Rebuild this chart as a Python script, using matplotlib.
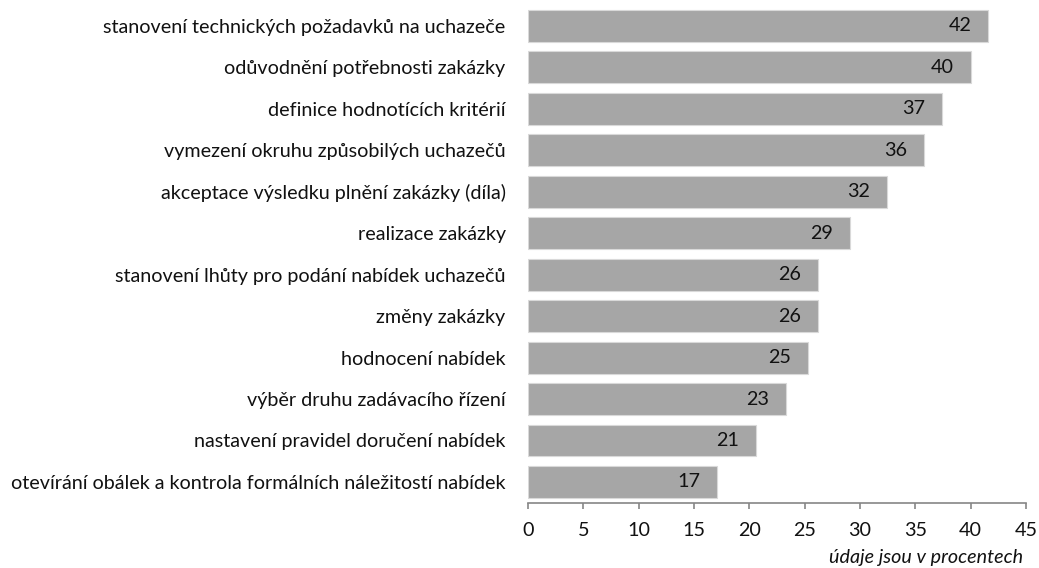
import matplotlib
matplotlib.use("Agg")
import matplotlib.pyplot as plt

# data (percent)
categories = [
    "stanovení technických požadavků na uchazeče",
    "odůvodnění potřebnosti zakázky",
    "definice hodnotících kritérií",
    "vymezení okruhu způsobilých uchazečů",
    "akceptace výsledku plnění zakázky (díla)",
    "realizace zakázky",
    "stanovení lhůty pro podání nabídek uchazečů",
    "změny zakázky",
    "hodnocení nabídek",
    "výběr druhu zadávacího řízení",
    "nastavení pravidel doručení nabídek",
    "otevírání obálek a kontrola formálních náležitostí nabídek",
]
values = [41.6, 40.0, 37.4, 35.8, 32.4, 29.1, 26.2, 26.2, 25.3, 23.3, 20.6, 17.1]
xticks = [0, 5, 10, 15, 20, 25, 30, 35, 40, 45]
note = "údaje jsou v procentech"

plt.rcParams["font.family"] = ["Lato", "DejaVu Sans"]
fs = 14.2

fig = plt.figure(figsize=(10.39, 5.68), dpi=100)
ax = fig.add_axes([0.508, 0.115, 0.4795, 0.876])

pos = list(range(len(categories)))
bars = ax.barh(pos, values, height=0.77, color="#a6a6a6", edgecolor="#d9d9d9", linewidth=0.8)

for b, v in zip(bars, values):
    ax.annotate(f"{round(v)}", xy=(b.get_width(), b.get_y() + b.get_height() / 2),
                xytext=(-12, 0), textcoords="offset points",
                ha="right", va="center", fontsize=fs, color="#111111")

ax.set_ylim(len(categories) - 0.5, -0.5)
ax.set_xlim(0, 45)
ax.set_yticks(pos)
ax.set_yticklabels(categories, fontsize=fs, color="#111111")
ax.set_xticks(xticks)
ax.set_xticklabels([str(t) for t in xticks], fontsize=fs, color="#111111")

for s in ["top", "right", "left"]:
    ax.spines[s].set_visible(False)
ax.spines["bottom"].set_color("#868686")
ax.spines["bottom"].set_linewidth(1.2)
ax.tick_params(axis="y", length=0, pad=16)
ax.tick_params(axis="x", direction="out", length=4, width=1.2, color="#868686", pad=10)

fig.text(0.985, 0.004, note, ha="right", va="bottom", fontsize=fs, style="italic", color="#111111")

plt.savefig("out.png", dpi=100)
